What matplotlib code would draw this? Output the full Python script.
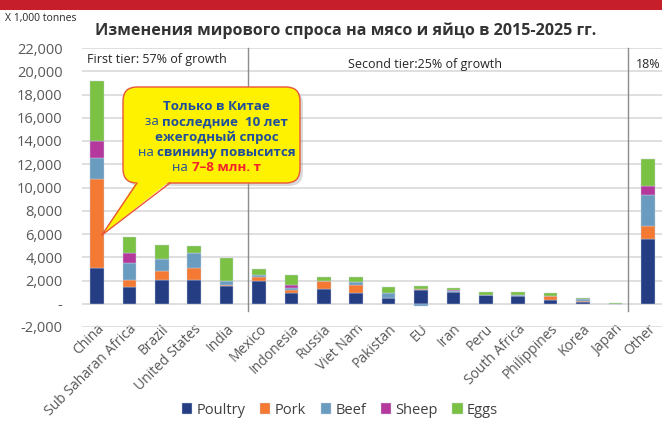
import matplotlib
matplotlib.use("Agg")
import matplotlib.pyplot as plt
import numpy as np
from matplotlib.patches import FancyBboxPatch, Polygon, Rectangle
from matplotlib.offsetbox import TextArea, HPacker, VPacker, AnnotationBbox

plt.rcParams['font.family'] = ['Open Sans', 'DejaVu Sans']

countries = ["China", "Sub Saharan Africa", "Brazil", "United States", "India",
             "Mexico", "Indonesia", "Russia", "Viet Nam", "Pakistan", "EU",
             "Iran", "Peru", "South Africa", "Philippines", "Korea", "Japan", "Other"]

poultry = [3100, 1450, 2050, 2080, 1540, 1970, 940, 1260, 940, 460, 1170,
           1030, 740, 690, 340, 140, 0, 5540]
pork = [7600, 600, 780, 1000, 30, 310, 200, 690, 630, 0, 60,
        0, 0, 0, 290, 120, 0, 1140]
beef = [1800, 1430, 1000, 1260, 400, 200, 230, 50, 290, 450, -170,
        80, 50, 40, 30, 110, 0, 2660]
sheep = [1460, 850, 0, 0, 0, 0, 200, 0, 0, 40, 0,
         80, 0, 0, 0, 0, 0, 770]
eggs = [5200, 1430, 1230, 600, 2000, 490, 890, 310, 430, 460, 310,
        150, 240, 240, 280, 120, 90, 2370]

series = [("Poultry", poultry, "#253D82"),
          ("Pork", pork, "#F47932"),
          ("Beef", beef, "#6A9CC0"),
          ("Sheep", sheep, "#B5399C"),
          ("Eggs", eggs, "#7BC143")]

W, H = 662, 424
fig = plt.figure(figsize=(W / 100, H / 100), dpi=100)

ax = fig.add_axes([82 / W, 1 - 327 / H, 580 / W, 279 / H])
x = np.arange(len(countries))
pos_base = np.zeros(len(countries))
neg_base = np.zeros(len(countries))
for name, vals, col in series:
    v = np.array(vals, dtype=float)
    bottom = np.where(v >= 0, pos_base, neg_base)
    ax.bar(x, v, 0.42, bottom=bottom, color=col, label=name, zorder=3,
           edgecolor="#c8d0e0", linewidth=0.3)
    pos_base += np.where(v >= 0, v, 0)
    neg_base += np.where(v < 0, v, 0)

ax.set_xlim(-0.46, 17.44)
ax.set_ylim(-2000, 22000)
yt = np.arange(-2000, 22001, 2000)
ax.set_yticks(yt)
ax.set_yticklabels(["-" if t == 0 else f"{t:,}" for t in yt], color="#595959", fontsize=10.5)
ax.set_xticks(x)
ax.set_xticklabels(countries, rotation=45, ha="right", rotation_mode="anchor",
                   color="#595959", fontsize=10)
ax.tick_params(axis="y", length=0, pad=14)
ax.tick_params(axis="x", length=0, pad=-4)
ax.grid(axis="y", color="#D9D9D9", linewidth=1.2, zorder=0)
for s in ax.spines.values():
    s.set_visible(False)

# tier separators
for xs in (4.65, 16.4):
    ax.plot([xs, xs], [-600, 22000], color="#8C8C8C", linewidth=1, zorder=4, clip_on=False)

ax.text(-0.3, 21000, "First tier: 57% of growth", fontsize=9, color="#262626", va="center")
ax.text(7.75, 20600, "Second tier:25% of growth", fontsize=9, color="#262626", va="center")
ax.text(16.65, 20600, "18%", fontsize=9, color="#262626", va="center")

# overlay in pixel coords
ov = fig.add_axes([0, 0, 1, 1], zorder=5)
ov.set_xlim(0, W)
ov.set_ylim(H, 0)
ov.axis("off")

ov.add_patch(Rectangle((0, 0), W, 10, color="#C61F2B", lw=0))
ov.text(5, 18, "X 1,000 tonnes", fontsize=7.5, color="#262626", va="center")
ov.text(346, 31, "Изменения мирового спроса на мясо и яйцо в 2015-2025 гг.",
        fontsize=11.6, fontweight="bold", color="#333333", ha="center", va="center")

# callout
tip_disp = ax.transData.transform((0.15, 5900))
tip = ov.transData.inverted().transform(tip_disp)
bx0, by0, bx1, by1 = 123, 87, 300, 183
ov.add_patch(FancyBboxPatch((bx0 + 3, by0 + 3), bx1 - bx0, by1 - by0,
                            boxstyle="round,pad=0,rounding_size=14",
                            fc="#999999", ec="none", alpha=0.35))
ov.add_patch(FancyBboxPatch((bx0, by0), bx1 - bx0, by1 - by0,
                            boxstyle="round,pad=0,rounding_size=14",
                            fc="#FFF200", ec="#E8553A", lw=1))
ov.add_patch(Polygon([(137, by1 - 2), tuple(tip), (170, by1 - 2)], closed=True,
                     fc="#FFF200", ec="none"))
ov.plot([137, tip[0], 170], [by1, tip[1], by1], color="#E8553A", lw=1)

blue = "#1F4E9C"
red = "#F5222D"
fs = 9.6


def seg(t, bold=True, color=blue):
    return TextArea(t, textprops=dict(fontsize=fs, color=color,
                                      fontweight="bold" if bold else "normal"))


lines = [
    [seg("Только в Китае")],
    [seg("за ", False), seg("последние  10 лет")],
    [seg("ежегодный спрос")],
    [seg("на ", False), seg("свинину повысится")],
    [seg("на ", False), seg("7–8 млн. т", color=red)],
]
rows = [HPacker(children=l, align="baseline", pad=0, sep=0) for l in lines]
box = VPacker(children=rows, align="center", pad=0, sep=1.5)
ov.add_artist(AnnotationBbox(box, ((bx0 + bx1) / 2 + 5, (by0 + by1) / 2 + 2),
                             xycoords="data", frameon=False, box_alignment=(0.5, 0.5)))

handles, labels = ax.get_legend_handles_labels()
fig.legend(handles, labels, loc="center", bbox_to_anchor=(340 / W, 1 - 410 / H),
           ncol=5, frameon=False, fontsize=10.5, handlelength=0.7, handleheight=0.7,
           columnspacing=1.0, handletextpad=0.3, labelcolor="#404040")

fig.savefig("out.png", dpi=100)
